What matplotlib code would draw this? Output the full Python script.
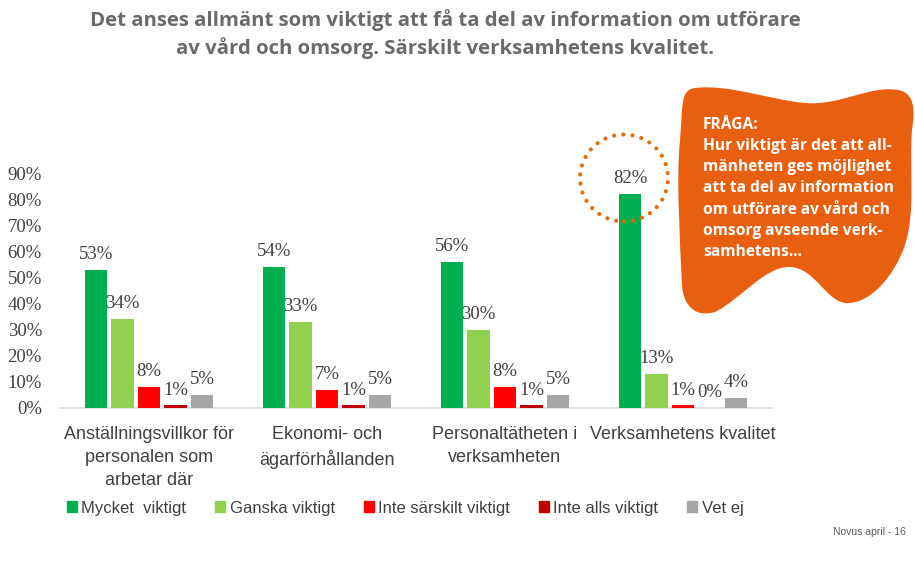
import matplotlib.pyplot as plt
import numpy as np
from matplotlib.patches import PathPatch, Ellipse, Rectangle
from matplotlib.path import Path

W, H = 915, 580

categories = [
    "Anställningsvillkor för\npersonalen som\narbetar där",
    "Ekonomi- och\nägarförhållanden",
    "Personaltätheten i\nverksamheten",
    "Verksamhetens kvalitet",
]
series_names = ["Mycket  viktigt", "Ganska viktigt", "Inte särskilt viktigt", "Inte alls viktigt", "Vet ej"]
mycket = [53, 54, 56, 82]
ganska = [34, 33, 30, 13]
inte_sarskilt = [8, 7, 8, 1]
inte_alls = [1, 1, 1, 0]
vet_ej = [5, 5, 5, 4]
colors = ["#00B050", "#92D050", "#FF0000", "#C00000", "#A6A6A6"]
yticks = [0, 10, 20, 30, 40, 50, 60, 70, 80, 90]

sans = "Liberation Sans"


def px(x, y):
    # pixel coords (y down) -> figure fraction
    return (x / W, 1 - y / H)


fig = plt.figure(figsize=(W / 100, H / 100), dpi=100)
ax = fig.add_axes([60 / W, 1 - 408 / H, 712 / W, 235 / H])

all_series = [mycket, ganska, inte_sarskilt, inte_alls, vet_ej]
x = np.arange(len(categories))
step = 0.149
for j, (vals, c) in enumerate(zip(all_series, colors)):
    pos = x + (j - 2) * step
    ax.bar(pos, vals, width=0.125, color=c, zorder=3)
    for p, v in zip(pos, vals):
        ax.annotate(f"{v}%", (p, v), xytext=(0, 11), textcoords="offset points",
                    ha="center", va="center", fontsize=13.5, family="Liberation Serif",
                    color="#404040", annotation_clip=False)

ax.set_xlim(-0.5, len(categories) - 0.5)
ax.set_ylim(0, 90)
ax.set_yticks(yticks)
ax.set_yticklabels([f"{t}%" for t in yticks], family="Liberation Serif", fontsize=13.5, color="#404040")
ax.tick_params(axis="y", length=0, pad=13)
ax.set_xticks(x)
ax.set_xticklabels(categories, family=sans, fontsize=13, color="#404040", linespacing=1.45)
ax.tick_params(axis="x", length=0, pad=13)
for s in ["top", "right", "left"]:
    ax.spines[s].set_visible(False)
ax.spines["bottom"].set_color("#D9D9D9")
ax.spines["bottom"].set_linewidth(1.2)

# title
fig.text(*px(445, 20), "Det anses allmänt som viktigt att få ta del av information om utförare",
         ha="center", va="center", fontsize=14.7, fontweight="bold", family="Open Sans", color="#6A6A6A")
fig.text(*px(445, 48), "av vård och omsorg. Särskilt verksamhetens kvalitet.",
         ha="center", va="center", fontsize=14.7, fontweight="bold", family="Open Sans", color="#6A6A6A")

# orange blob (hand traced outline, pixel coords)
verts = [
    (695, 88),
    (730, 84), (770, 100), (805, 103),
    (840, 106), (870, 85), (898, 90),
    (915, 93), (915, 110), (912, 130),
    (909, 170), (916, 210), (905, 245),
    (895, 275), (870, 305), (845, 303),
    (825, 300), (815, 268), (790, 267),
    (765, 266), (740, 300), (715, 312),
    (695, 318), (683, 305), (682, 285),
    (680, 240), (676, 180), (680, 140),
    (683, 105), (680, 90), (695, 88),
]
codes = [Path.MOVETO] + [Path.CURVE4] * 30
path = Path([px(a, b) for a, b in verts], codes)
fig.patches.append(PathPatch(path, facecolor="#E8600F", edgecolor="none", transform=fig.transFigure))

blob_text = ("FRÅGA:\nHur viktigt är det att all-\nmänheten ges möjlighet\natt ta del av information\n"
             "om utförare av vård och\nomsorg avseende verk-\nsamhetens...")
fig.text(*px(703, 117), blob_text, ha="left", va="top", fontsize=11.2, fontweight="bold",
         family="Open Sans", color="white", linespacing=1.43)

# dotted circle
fig.patches.append(Ellipse(px(624, 178), 88 / W, 87 / H, transform=fig.transFigure,
                           fill=False, edgecolor="#E46C0A", linewidth=3,
                           linestyle=(0, (0.01, 2.2)), capstyle="round"))

# legend
handles = [Rectangle((0, 0), 1, 1, color=c) for c in colors]
fig.legend(handles, series_names, loc="center left", bbox_to_anchor=px(52, 508), ncol=5,
           frameon=False, handlelength=0.6, handleheight=0.6, handletextpad=0.25,
           columnspacing=1.75, prop={"family": sans, "size": 12}, labelcolor="#404040")

fig.text(*px(906, 532), "Novus april - 16", ha="right", va="center", fontsize=7.5,
         family=sans, color="#595959")

fig.savefig("out.png", dpi=100)
